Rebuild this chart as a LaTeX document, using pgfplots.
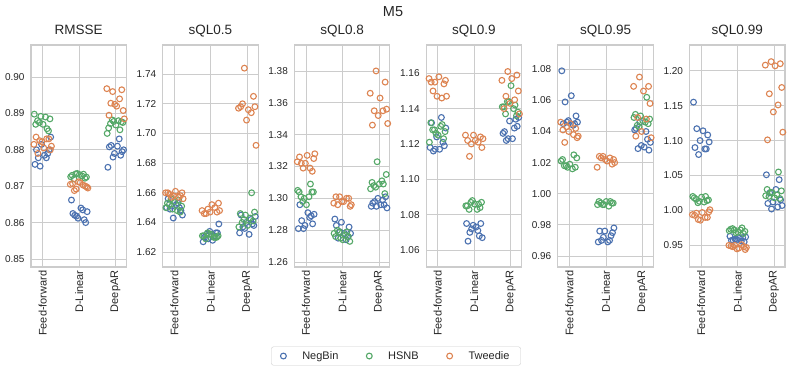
\documentclass[border=0pt]{standalone}
\usepackage{pgfplots}
\pgfplotsset{compat=1.18}
\usepackage{pgfplotstable}
\usepackage{fontspec}
\setmainfont{Liberation Sans}
\definecolor{cNB}{HTML}{4C72B0}
\definecolor{cHS}{HTML}{55A868}
\definecolor{cTW}{HTML}{DD8452}
\definecolor{gridc}{HTML}{CCCCCC}
\definecolor{txt}{HTML}{262626}

% columns: c = category, ja/jb/jc = horizontal jitter, nb/hs/tw = values
\pgfplotstableread{
c ja jb jc nb hs tw
0 -0.21 0.12 -0.08 0.8760 0.8858 0.8825
0 0.05 -0.19 0.17 0.8785 0.8870 0.8830
0 -0.12 0.20 -0.24 0.8778 0.8885 0.8815
0 0.18 -0.05 0.03 0.8800 0.8892 0.8805
0 -0.03 0.08 0.21 0.8815 0.8890 0.8800
0 0.22 -0.14 -0.13 0.8835 0.8880 0.8790
0 -0.17 0.01 0.11 0.8800 0.8870 0.8830
0 0.10 -0.23 -0.02 0.8778 0.8898 0.8822
0 -0.07 0.16 0.24 0.8755 0.8852 0.8810
0 0.14 -0.09 -0.18 0.8790 0.8875 0.8835
1 -0.21 0.12 -0.08 0.8662 0.8733 0.8692
1 0.05 -0.19 0.17 0.8640 0.8730 0.8700
1 -0.12 0.20 -0.24 0.8620 0.8725 0.8705
1 0.18 -0.05 0.03 0.8600 0.8735 0.8710
1 -0.03 0.08 0.21 0.8612 0.8728 0.8698
1 0.22 -0.14 -0.13 0.8630 0.8720 0.8688
1 -0.17 0.01 0.11 0.8625 0.8732 0.8703
1 0.10 -0.23 -0.02 0.8635 0.8726 0.8712
1 -0.07 0.16 0.24 0.8618 0.8722 0.8695
1 0.14 -0.09 -0.18 0.8608 0.8734 0.8707
2 -0.21 0.12 -0.08 0.8752 0.8855 0.8960
2 0.05 -0.19 0.17 0.8810 0.8860 0.8965
2 -0.12 0.20 -0.24 0.8812 0.8875 0.8968
2 0.18 -0.05 0.03 0.8795 0.8878 0.8920
2 -0.03 0.08 0.21 0.8790 0.8880 0.8908
2 0.22 -0.14 -0.13 0.8800 0.8872 0.8928
2 -0.17 0.01 0.11 0.8808 0.8868 0.8940
2 0.10 -0.23 -0.02 0.8830 0.8845 0.8925
2 -0.07 0.16 0.24 0.8780 0.8877 0.8885
2 0.14 -0.09 -0.18 0.8785 0.8882 0.8895
}\tA

\pgfplotstableread{
c ja jb jc nb hs tw
0 -0.21 0.12 -0.08 1.650 1.655 1.657
0 0.05 -0.19 0.17 1.652 1.653 1.658
0 -0.12 0.20 -0.24 1.649 1.651 1.660
0 0.18 -0.05 0.03 1.648 1.649 1.661
0 -0.03 0.08 0.21 1.643 1.648 1.660
0 0.22 -0.14 -0.13 1.645 1.652 1.659
0 -0.17 0.01 0.11 1.656 1.654 1.657
0 0.10 -0.23 -0.02 1.653 1.650 1.658
0 -0.07 0.16 0.24 1.651 1.647 1.656
0 0.14 -0.09 -0.18 1.650 1.656 1.660
1 -0.21 0.12 -0.08 1.627 1.630 1.649
1 0.05 -0.19 0.17 1.628 1.631 1.647
1 -0.12 0.20 -0.24 1.632 1.631 1.648
1 0.18 -0.05 0.03 1.633 1.632 1.652
1 -0.03 0.08 0.21 1.634 1.630 1.653
1 0.22 -0.14 -0.13 1.639 1.629 1.646
1 -0.17 0.01 0.11 1.630 1.632 1.650
1 0.10 -0.23 -0.02 1.631 1.631 1.647
1 -0.07 0.16 0.24 1.629 1.630 1.648
1 0.14 -0.09 -0.18 1.633 1.633 1.646
2 -0.21 0.12 -0.08 1.633 1.660 1.744
2 0.05 -0.19 0.17 1.632 1.646 1.725
2 -0.12 0.20 -0.24 1.637 1.647 1.717
2 0.18 -0.05 0.03 1.638 1.645 1.716
2 -0.03 0.08 0.21 1.640 1.643 1.718
2 0.22 -0.14 -0.13 1.644 1.640 1.720
2 -0.17 0.01 0.11 1.645 1.638 1.714
2 0.10 -0.23 -0.02 1.642 1.637 1.709
2 -0.07 0.16 0.24 1.636 1.641 1.692
2 0.14 -0.09 -0.18 1.639 1.642 1.718
}\tB

\pgfplotstableread{
c ja jb jc nb hs tw
0 -0.21 0.12 -0.08 1.281 1.309 1.319
0 0.05 -0.19 0.17 1.291 1.304 1.317
0 -0.12 0.20 -0.24 1.286 1.304 1.323
0 0.18 -0.05 0.03 1.284 1.300 1.327
0 -0.03 0.08 0.21 1.283 1.301 1.325
0 0.22 -0.14 -0.13 1.290 1.301 1.322
0 -0.17 0.01 0.11 1.296 1.296 1.319
0 0.10 -0.23 -0.02 1.288 1.305 1.322
0 -0.07 0.16 0.24 1.281 1.304 1.328
0 0.14 -0.09 -0.18 1.289 1.298 1.326
1 -0.21 0.12 -0.08 1.287 1.279 1.301
1 0.05 -0.19 0.17 1.278 1.276 1.300
1 -0.12 0.20 -0.24 1.275 1.273 1.297
1 0.18 -0.05 0.03 1.282 1.275 1.298
1 -0.03 0.08 0.21 1.285 1.277 1.295
1 0.22 -0.14 -0.13 1.278 1.280 1.296
1 -0.17 0.01 0.11 1.283 1.274 1.300
1 0.10 -0.23 -0.02 1.274 1.278 1.298
1 -0.07 0.16 0.24 1.279 1.276 1.296
1 0.14 -0.09 -0.18 1.276 1.279 1.301
2 -0.21 0.12 -0.08 1.295 1.309 1.380
2 0.05 -0.19 0.17 1.296 1.310 1.373
2 -0.12 0.20 -0.24 1.298 1.315 1.366
2 0.18 -0.05 0.03 1.301 1.323 1.363
2 -0.03 0.08 0.21 1.300 1.311 1.356
2 0.22 -0.14 -0.13 1.294 1.308 1.355
2 -0.17 0.01 0.11 1.297 1.309 1.355
2 0.10 -0.23 -0.02 1.299 1.306 1.352
2 -0.07 0.16 0.24 1.295 1.303 1.347
2 0.14 -0.09 -0.18 1.296 1.307 1.346
}\tC

\pgfplotstableread{
c ja jb jc nb hs tw
0 -0.21 0.12 -0.08 1.118 1.131 1.155
0 0.05 -0.19 0.17 1.117 1.132 1.154
0 -0.12 0.20 -0.24 1.116 1.127 1.157
0 0.18 -0.05 0.03 1.119 1.126 1.158
0 -0.03 0.08 0.21 1.124 1.130 1.156
0 0.22 -0.14 -0.13 1.129 1.128 1.150
0 -0.17 0.01 0.11 1.132 1.125 1.146
0 0.10 -0.23 -0.02 1.135 1.121 1.147
0 -0.07 0.16 0.24 1.117 1.123 1.147
0 0.14 -0.09 -0.18 1.121 1.128 1.155
1 -0.21 0.12 -0.08 1.075 1.086 1.120
1 0.05 -0.19 0.17 1.073 1.085 1.124
1 -0.12 0.20 -0.24 1.070 1.087 1.125
1 0.18 -0.05 0.03 1.075 1.088 1.122
1 -0.03 0.08 0.21 1.074 1.083 1.118
1 0.22 -0.14 -0.13 1.067 1.083 1.113
1 -0.17 0.01 0.11 1.065 1.086 1.121
1 0.10 -0.23 -0.02 1.071 1.085 1.125
1 -0.07 0.16 0.24 1.072 1.084 1.123
1 0.14 -0.09 -0.18 1.068 1.087 1.122
2 -0.21 0.12 -0.08 1.126 1.142 1.161
2 0.05 -0.19 0.17 1.123 1.141 1.159
2 -0.12 0.20 -0.24 1.122 1.138 1.156
2 0.18 -0.05 0.03 1.130 1.144 1.157
2 -0.03 0.08 0.21 1.133 1.140 1.150
2 0.22 -0.14 -0.13 1.135 1.137 1.147
2 -0.17 0.01 0.11 1.127 1.153 1.145
2 0.10 -0.23 -0.02 1.129 1.141 1.143
2 -0.07 0.16 0.24 1.123 1.136 1.137
2 0.14 -0.09 -0.18 1.134 1.144 1.140
}\tD

\pgfplotstableread{
c ja jb jc nb hs tw
0 -0.21 0.12 -0.08 1.079 1.025 1.043
0 0.05 -0.19 0.17 1.063 1.022 1.042
0 -0.12 0.20 -0.24 1.059 1.023 1.046
0 0.18 -0.05 0.03 1.050 1.017 1.045
0 -0.03 0.08 0.21 1.047 1.016 1.036
0 0.22 -0.14 -0.13 1.046 1.018 1.033
0 -0.17 0.01 0.11 1.045 1.019 1.038
0 0.10 -0.23 -0.02 1.044 1.021 1.040
0 -0.07 0.16 0.24 1.046 1.017 1.037
0 0.14 -0.09 -0.18 1.045 1.018 1.041
1 -0.21 0.12 -0.08 0.969 0.995 1.024
1 0.05 -0.19 0.17 0.969 0.995 1.019
1 -0.12 0.20 -0.24 0.970 0.994 1.017
1 0.18 -0.05 0.03 0.975 0.993 1.021
1 -0.03 0.08 0.21 0.976 0.992 1.022
1 0.22 -0.14 -0.13 0.978 0.994 1.023
1 -0.17 0.01 0.11 0.976 0.995 1.023
1 0.10 -0.23 -0.02 0.970 0.993 1.022
1 -0.07 0.16 0.24 0.972 0.994 1.020
1 0.14 -0.09 -0.18 0.973 0.993 1.024
2 -0.21 0.12 -0.08 1.041 1.062 1.075
2 0.05 -0.19 0.17 1.030 1.051 1.069
2 -0.12 0.20 -0.24 1.029 1.048 1.069
2 0.18 -0.05 0.03 1.028 1.050 1.066
2 -0.03 0.08 0.21 1.031 1.046 1.058
2 0.22 -0.14 -0.13 1.033 1.044 1.049
2 -0.17 0.01 0.11 1.042 1.047 1.048
2 0.10 -0.23 -0.02 1.040 1.049 1.040
2 -0.07 0.16 0.24 1.046 1.045 1.036
2 0.14 -0.09 -0.18 1.035 1.043 1.037
}\tE

\pgfplotstableread{
c ja jb jc nb hs tw
0 -0.21 0.12 -0.08 1.155 1.020 0.987
0 0.05 -0.19 0.17 1.114 1.018 0.990
0 -0.12 0.20 -0.24 1.117 1.015 0.994
0 0.18 -0.05 0.03 1.108 1.013 0.997
0 -0.03 0.08 0.21 1.100 1.012 0.998
0 0.22 -0.14 -0.13 1.098 1.016 0.996
0 -0.17 0.01 0.11 1.090 1.019 0.990
0 0.10 -0.23 -0.02 1.088 1.020 0.986
0 -0.07 0.16 0.24 1.080 1.014 1.001
0 0.14 -0.09 -0.18 1.088 1.011 0.993
1 -0.21 0.12 -0.08 0.963 0.975 0.950
1 0.05 -0.19 0.17 0.960 0.973 0.948
1 -0.12 0.20 -0.24 0.957 0.970 0.950
1 0.18 -0.05 0.03 0.955 0.968 0.946
1 -0.03 0.08 0.21 0.958 0.972 0.944
1 0.22 -0.14 -0.13 0.962 0.974 0.948
1 -0.17 0.01 0.11 0.957 0.969 0.951
1 0.10 -0.23 -0.02 0.956 0.971 0.945
1 -0.07 0.16 0.24 0.959 0.967 0.947
1 0.14 -0.09 -0.18 0.961 0.972 0.949
2 -0.21 0.12 -0.08 1.051 1.055 1.213
2 0.05 -0.19 0.17 1.030 1.030 1.210
2 -0.12 0.20 -0.24 1.025 1.028 1.208
2 0.18 -0.05 0.03 1.015 1.025 1.207
2 -0.03 0.08 0.21 1.012 1.022 1.176
2 0.22 -0.14 -0.13 1.007 1.020 1.167
2 -0.17 0.01 0.11 1.010 1.018 1.151
2 0.10 -0.23 -0.02 1.005 1.021 1.141
2 -0.07 0.16 0.24 1.002 1.017 1.112
2 0.14 -0.09 -0.18 1.044 1.026 1.101
}\tF

\pgfplotsset{
  panel/.style={
    width=95.5pt, height=222pt, scale only axis,
    anchor=north west,
    xmin=-0.32, xmax=2.3,
    xtick={0,1,2}, xticklabels={Feed-forward,D-Linear,DeepAR},
    xticklabel style={rotate=90, anchor=east, font=\fontsize{11}{13}\selectfont, text=txt},
    yticklabel style={font=\fontsize{10}{12}\selectfont, text=txt, xshift=-3pt,
      /pgf/number format/fixed, /pgf/number format/fixed zerofill,
      /pgf/number format/precision=2},
    /pgf/number format/assume math mode=true,
    scaled y ticks=false,
    major tick length=0pt,
    grid=major,
    grid style={gridc, line width=0.8pt},
    axis line style={gridc, line width=1.1pt},
    title style={at={(0.5,1)}, anchor=base, yshift=4.5pt,
      font=\fontsize{13.5}{16}\selectfont, text=txt},
  },
  nbp/.style={only marks, mark=o, mark size=2.9pt, cNB, mark options={cNB, line width=1.1pt}},
  hsp/.style={only marks, mark=o, mark size=2.9pt, cHS, mark options={cHS, line width=1.1pt}},
  twp/.style={only marks, mark=o, mark size=2.9pt, cTW, mark options={cTW, line width=1.1pt}},
}

\newcommand{\strips}[1]{%
  \addplot[nbp] table[x expr={\thisrow{c}+\thisrow{ja}}, y=nb] {#1};
  \addplot[hsp] table[x expr={\thisrow{c}+\thisrow{jb}}, y=hs] {#1};
  \addplot[twp] table[x expr={\thisrow{c}+\thisrow{jc}}, y=tw] {#1};
}

\begin{document}
\begin{tikzpicture}
\path[use as bounding box] (0pt,0pt) rectangle (793pt,-371pt);

\begin{axis}[panel, at={(31pt,-45pt)}, title={RMSSE},
  ymin=0.8478, ymax=0.9088, ytick={0.85,0.86,...,0.905}]
\strips{\tA}
\end{axis}

\begin{axis}[panel, at={(162.7pt,-45pt)}, title={sQL0.5},
  ymin=1.610, ymax=1.7596, ytick={1.62,1.64,...,1.745}]
\strips{\tB}
\end{axis}

\begin{axis}[panel, at={(294.4pt,-45pt)}, title={sQL0.8},
  ymin=1.2569, ymax=1.3963, ytick={1.26,1.28,...,1.385},
  legend columns=3,
  legend style={at={(1.064,-0.401)}, anchor=center,
    draw=gridc, rounded corners=2pt, fill=white, text=txt,
    font=\fontsize{11}{13}\selectfont,
    /tikz/every odd column/.append style={column sep=14pt},
    /tikz/every even column/.append style={column sep=26pt},
    inner xsep=9pt, inner ysep=2.5pt}]
\strips{\tC}
\legend{NegBin,HSNB,Tweedie}
\end{axis}

\begin{axis}[panel, at={(426.1pt,-45pt)}, title={sQL0.9},
  ymin=1.0504, ymax=1.176, ytick={1.06,1.08,...,1.165}]
\strips{\tD}
\end{axis}

\begin{axis}[panel, at={(557.8pt,-45pt)}, title={sQL0.95},
  ymin=0.9529, ymax=1.0956, ytick={0.96,0.98,...,1.085}]
\strips{\tE}
\end{axis}

\begin{axis}[panel, at={(689.5pt,-45pt)}, title={sQL0.99},
  ymin=0.919, ymax=1.2368, ytick={0.95,1.00,...,1.205}]
\strips{\tF}
\end{axis}

\node[anchor=base, font=\fontsize{14.5}{17}\selectfont, text=txt] at (393pt,-17pt) {M5};
\end{tikzpicture}
\end{document}
